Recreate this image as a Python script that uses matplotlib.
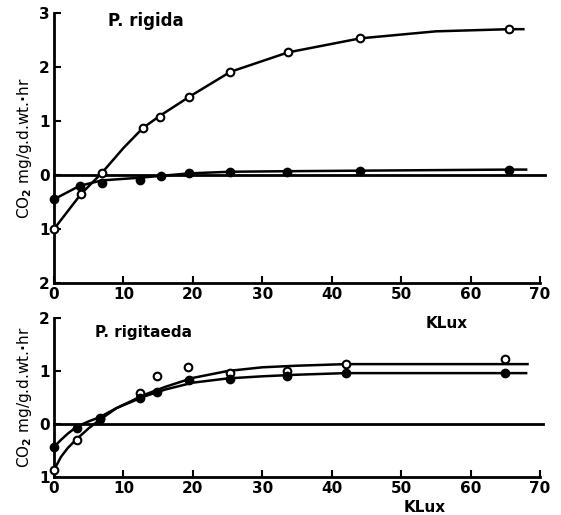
import matplotlib
matplotlib.use('Agg')
import matplotlib.pyplot as plt

plt.rcParams['font.family'] = ['DejaVu Sans']
plt.rcParams['font.weight'] = 'bold'

# P. rigida
rigida_x = [0, 3.9, 6.9, 12.8, 15.3, 19.5, 25.4, 33.7, 44.1, 65.6]
rigida_open = [-1.0, -0.35, 0.04, 0.87, 1.07, 1.44, 1.91, 2.27, 2.53, 2.70]
rigida_dot_x = [0, 3.7, 6.9, 12.4, 15.4, 19.5, 25.4, 33.6, 44.0, 65.6]
rigida_dot = [-0.45, -0.2, -0.14, -0.09, -0.02, 0.04, 0.06, 0.06, 0.08, 0.10]
rigida_open_curve_x = [0, 3.9, 6.9, 10, 12.8, 15.3, 19.5, 25.4, 33.7, 44.1, 55, 65.6, 67.6]
rigida_open_curve = [-1.0, -0.35, 0.04, 0.5, 0.87, 1.1, 1.45, 1.91, 2.27, 2.53, 2.66, 2.70, 2.70]
rigida_dot_curve_x = [0, 3.7, 6.9, 12.4, 19.5, 25.4, 33.6, 44.0, 65.6, 68]
rigida_dot_curve = [-0.45, -0.2, -0.1, -0.05, 0.03, 0.06, 0.07, 0.08, 0.10, 0.10]

# P. rigitaeda
taeda_x = [0, 3.3, 6.6, 12.4, 14.8, 19.3, 25.3, 33.5, 42.0, 64.9]
taeda_open = [-0.87, -0.3, 0.11, 0.58, 0.9, 1.07, 0.96, 1.0, 1.13, 1.22]
taeda_dot_x = [0, 3.3, 6.6, 12.4, 14.8, 19.5, 25.3, 33.5, 42.0, 65.0]
taeda_dot = [-0.43, -0.07, 0.1, 0.49, 0.6, 0.83, 0.85, 0.9, 0.96, 0.96]
taeda_open_curve_x = [0, 1, 2, 3.3, 5, 6.6, 9, 13, 16, 20, 25, 30, 35, 42, 68.2]
taeda_open_curve = [-0.87, -0.62, -0.45, -0.28, -0.08, 0.08, 0.3, 0.55, 0.7, 0.87, 1.0, 1.07, 1.1, 1.13, 1.13]
taeda_dot_curve_x = [0, 1, 2, 3.3, 5, 6.6, 9, 13, 16, 20, 25, 30, 35, 42, 68]
taeda_dot_curve = [-0.43, -0.3, -0.18, -0.05, 0.05, 0.13, 0.3, 0.52, 0.65, 0.78, 0.86, 0.9, 0.93, 0.96, 0.96]

x_ticks = [0, 10, 20, 30, 40, 50, 60, 70]
top_y_ticks = [-2, -1, 0, 1, 2, 3]
top_y_labels = ['2', '1', '0', '1', '2', '3']
bot_y_ticks = [-1, 0, 1, 2]
bot_y_labels = ['1', '0', '1', '2']

ylabel = 'CO$_2$ mg/g.d.wt.$\\bullet$hr'

fig = plt.figure(figsize=(5.61, 5.15), dpi=100)
ax1 = fig.add_axes([0.0963, 0.4505, 0.8663, 0.5243])
ax2 = fig.add_axes([0.0963, 0.0738, 0.8663, 0.3087])


def style(ax, yticks, ylabels, ylim):
    ax.set_xlim(0, 70)
    ax.set_ylim(*ylim)
    ax.set_xticks(x_ticks)
    ax.set_yticks(yticks)
    ax.set_yticklabels(ylabels)
    for s in ['top', 'right']:
        ax.spines[s].set_visible(False)
    for s in ['left', 'bottom']:
        ax.spines[s].set_linewidth(2)
    ax.tick_params(direction='in', length=5, width=1.5, labelsize=11, pad=3)
    ax.set_ylabel(ylabel, fontsize=11, labelpad=4)


mk = dict(markersize=5.5, markeredgewidth=1.5, linestyle='none', zorder=4, clip_on=False)

# top panel
ax1.plot([0, 70.7], [0, 0], color='black', lw=2, clip_on=False)
ax1.plot(rigida_open_curve_x, rigida_open_curve, color='black', lw=1.8)
ax1.plot(rigida_dot_curve_x, rigida_dot_curve, color='black', lw=1.8)
ax1.plot(rigida_x, rigida_open, marker='o', mfc='white', mec='black', **mk)
ax1.plot(rigida_dot_x, rigida_dot, marker='o', mfc='black', mec='black', **mk)
style(ax1, top_y_ticks, top_y_labels, (-2, 3))
ax1.text(0.112, 0.95, 'P. rigida', transform=ax1.transAxes, fontsize=12)

# bottom panel
ax2.plot([0, 70.4], [0, 0], color='black', lw=2, clip_on=False)
ax2.plot(taeda_open_curve_x, taeda_open_curve, color='black', lw=1.8)
ax2.plot(taeda_dot_curve_x, taeda_dot_curve, color='black', lw=1.8)
ax2.plot(taeda_x, taeda_open, marker='o', mfc='white', mec='black', **mk)
ax2.plot(taeda_dot_x, taeda_dot, marker='o', mfc='black', mec='black', **mk)
style(ax2, bot_y_ticks, bot_y_labels, (-1, 2))
ax2.text(0.085, 0.88, 'P. rigitaeda', transform=ax2.transAxes, fontsize=11)

fig.text(447 / 561, 1 - 323 / 515, 'KLux', ha='center', va='center', fontsize=11)
fig.text(425 / 561, 1 - 507 / 515, 'KLux', ha='center', va='center', fontsize=11)

fig.savefig('out.png', dpi=100, facecolor='white')
